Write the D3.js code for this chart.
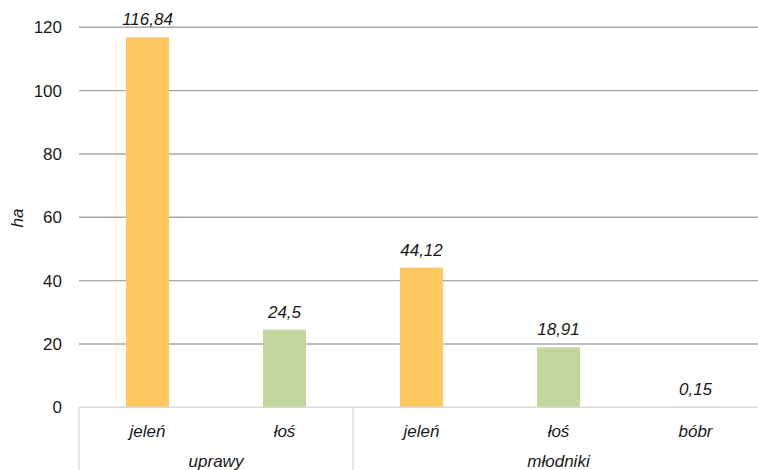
<!DOCTYPE html>
<html>
<head>
<meta charset="utf-8">
<script src="https://cdn.jsdelivr.net/npm/d3@7"></script>
<style>
  html, body { margin: 0; padding: 0; background: #fff; }
  svg { display: block; font-family: "Liberation Sans", Arial, sans-serif; }
</style>
</head>
<body>
<svg id="chart" width="758" height="470"></svg>
<script>
// Damage area (ha) by animal species, grouped by stand type
const species = ["jeleń", "łoś", "jeleń", "łoś", "bóbr"];
const groups = ["uprawy", "uprawy", "młodniki", "młodniki", "młodniki"];
const groupNames = ["uprawy", "młodniki"];
const values = [116.84, 24.5, 44.12, 18.91, 0.15];
const valueLabels = ["116,84", "24,5", "44,12", "18,91", "0,15"];
const yTicks = [0, 20, 40, 60, 80, 100, 120];
const barColors = { "jeleń": "#FFC861", "łoś": "#C3D69B", "bóbr": "#8EB4E3" };

const svg = d3.select("#chart");
const plotLeft = 79, plotRight = 764, plotTop = 27.3, plotBottom = 407.3;
const fontSize = 17;
const textColor = "#1a1a1a";

const idx = d3.range(values.length);
const x = d3.scaleBand().domain(idx).range([plotLeft, plotRight]).padding(0);
const y = d3.scaleLinear().domain([0, 120]).range([plotBottom, plotTop]);
const barW = x.bandwidth() * 0.314;

// horizontal gridlines
svg.append("g")
  .selectAll("line")
  .data(yTicks.filter(t => t > 0))
  .join("line")
  .attr("x1", plotLeft).attr("x2", plotRight)
  .attr("y1", d => y(d)).attr("y2", d => y(d))
  .attr("stroke", "#A8A8A8").attr("stroke-width", 1.4);

// y axis tick labels
const yAxis = d3.axisLeft(y).tickValues(yTicks).tickSize(0).tickPadding(17)
  .tickFormat(d3.format("d"));
const gy = svg.append("g").attr("transform", `translate(${plotLeft},0)`).call(yAxis);
gy.select(".domain").remove();
gy.selectAll("text")
  .attr("font-size", fontSize).attr("fill", textColor)
  .attr("font-family", "Liberation Sans, Arial, sans-serif");

// y axis title
svg.append("text")
  .attr("transform", `translate(${23},${218}) rotate(-90)`)
  .attr("text-anchor", "middle")
  .attr("font-size", fontSize).attr("font-style", "italic").attr("fill", textColor)
  .text("ha");

// bars
svg.append("g")
  .selectAll("rect")
  .data(idx)
  .join("rect")
  .attr("x", i => x(i) + x.bandwidth() / 2 - barW / 2)
  .attr("width", barW)
  .attr("y", i => y(values[i]))
  .attr("height", i => y(0) - y(values[i]))
  .attr("fill", i => barColors[species[i]]);

// value labels
svg.append("g")
  .selectAll("text")
  .data(idx)
  .join("text")
  .attr("x", i => x(i) + x.bandwidth() / 2)
  .attr("y", i => y(values[i]) - 12)
  .attr("text-anchor", "middle")
  .attr("font-size", fontSize).attr("font-style", "italic").attr("fill", textColor)
  .text(i => valueLabels[i]);

// category axis baseline
svg.append("line")
  .attr("x1", plotLeft).attr("x2", plotRight)
  .attr("y1", y(0)).attr("y2", y(0))
  .attr("stroke", "#D9D9D9").attr("stroke-width", 1.4);

// species labels
svg.append("g")
  .selectAll("text")
  .data(idx)
  .join("text")
  .attr("x", i => x(i) + x.bandwidth() / 2)
  .attr("y", 437)
  .attr("text-anchor", "middle")
  .attr("font-size", fontSize).attr("font-style", "italic").attr("fill", textColor)
  .text(i => species[i]);

// group separators and group labels
const groupSpans = groupNames.map(g => {
  const members = idx.filter(i => groups[i] === g);
  return { name: g, x0: x(members[0]), x1: x(members[members.length - 1]) + x.bandwidth() };
});
const bounds = [plotLeft, ...groupSpans.map(s => s.x1)];
svg.append("g")
  .selectAll("line")
  .data(bounds)
  .join("line")
  .attr("x1", d => d).attr("x2", d => d)
  .attr("y1", y(0)).attr("y2", 470)
  .attr("stroke", "#D9D9D9").attr("stroke-width", 1.4);

svg.append("g")
  .selectAll("text")
  .data(groupSpans)
  .join("text")
  .attr("x", d => (d.x0 + d.x1) / 2)
  .attr("y", 467)
  .attr("text-anchor", "middle")
  .attr("font-size", fontSize).attr("font-style", "italic").attr("fill", textColor)
  .text(d => d.name);
</script>
</body>
</html>
